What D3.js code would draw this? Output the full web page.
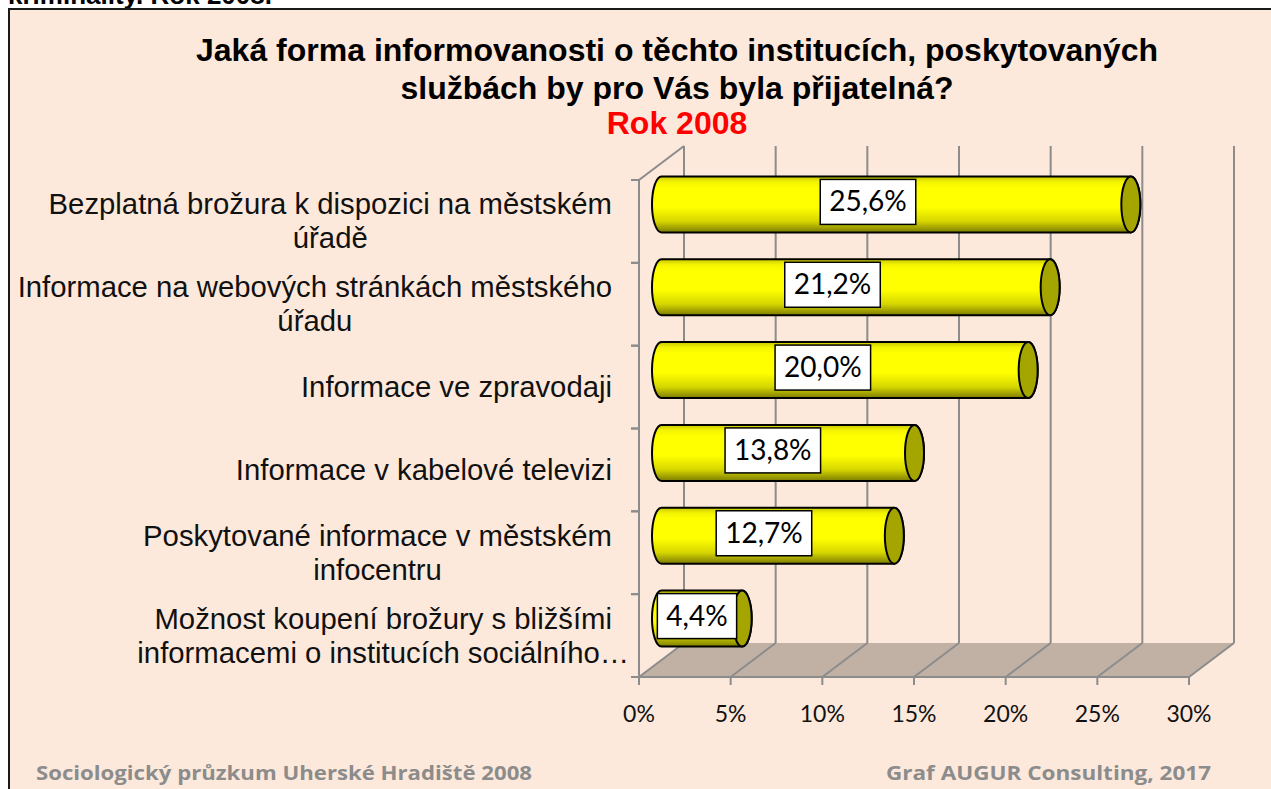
<!DOCTYPE html>
<html>
<head>
<meta charset="utf-8">
<script src="https://cdn.jsdelivr.net/npm/d3@7"></script>
<style>
  body { margin: 0; background: #ffffff; }
</style>
</head>
<body>
<div id="wrapper"></div>
<script>
// data
const categories = [
  ["Bezplatná brožura k dispozici na městském", "úřadě"],
  ["Informace na webových stránkách městského", "úřadu"],
  ["Informace ve zpravodaji"],
  ["Informace v kabelové televizi"],
  ["Poskytované informace v městském", "infocentru"],
  ["Možnost koupení brožury s bližšími", "informacemi o institucích sociálního…"],
];
const values = [25.6, 21.2, 20.0, 13.8, 12.7, 4.4];
const xTicks = [0, 5, 10, 15, 20, 25, 30];
const titleLines = [
  "Jaká forma informovanosti o těchto institucích, poskytovaných",
  "službách by pro Vás byla přijatelná?",
];
const subtitle = "Rok 2008";
const headerCut = "kriminality. Rok 2008.";
const footerLeft = "Sociologický průzkum Uherské Hradiště 2008";
const footerRight = "Graf AUGUR Consulting, 2017";

function drawChart() {
  const width = 1271;
  const height = 789;
  const depth = { dx: 45, dy: -34 };
  const plot = { left: 639, right: 1189, top: 180, bottom: 677 };

  const svg = d3
    .select("#wrapper")
    .append("svg")
    .attr("width", width)
    .attr("height", height);

  // gradient for the cylinder body
  const grad = svg
    .append("defs")
    .append("linearGradient")
    .attr("id", "cyl")
    .attr("x1", 0)
    .attr("y1", 0)
    .attr("x2", 0)
    .attr("y2", 1);
  [
    [0, "#c8c800"],
    [0.1, "#f4f400"],
    [0.2, "#ffff00"],
    [0.55, "#ffff00"],
    [0.8, "#d6d600"],
    [1, "#7c7c00"],
  ].forEach(([o, c]) => grad.append("stop").attr("offset", o).attr("stop-color", c));

  // text cut off at the top of the page
  svg
    .append("text")
    .attr("x", 8)
    .attr("y", 4)
    .attr("font-family", "Liberation Sans, Arial, sans-serif")
    .attr("font-weight", "bold")
    .attr("font-size", 26)
    .text(headerCut);

  // chart area
  svg
    .append("rect")
    .attr("x", 9)
    .attr("y", 9)
    .attr("width", width + 20)
    .attr("height", height + 20)
    .attr("fill", "#fde9db")
    .attr("stroke", "#1a1a1a")
    .attr("stroke-width", 2);

  const x = d3.scaleLinear().domain([0, 30]).range([plot.left, plot.right]);
  const y = d3
    .scaleBand()
    .domain(d3.range(categories.length))
    .range([plot.top, plot.bottom]);

  const grid = svg
    .append("g")
    .attr("stroke", "#8c8c8c")
    .attr("stroke-width", 2)
    .attr("fill", "none");

  // floor
  svg
    .insert("path", "g")
    .attr(
      "d",
      `M${x(0)},${plot.bottom} L${x(30)},${plot.bottom} L${x(30) + depth.dx},${
        plot.bottom + depth.dy
      } L${x(0) + depth.dx},${plot.bottom + depth.dy} Z`
    )
    .attr("fill", "#c1b1a5");

  // back wall gridlines + floor gridlines
  xTicks.forEach((t) => {
    grid
      .append("line")
      .attr("x1", x(t) + depth.dx)
      .attr("y1", plot.top + depth.dy)
      .attr("x2", x(t) + depth.dx)
      .attr("y2", plot.bottom + depth.dy);
    grid
      .append("line")
      .attr("x1", x(t))
      .attr("y1", plot.bottom)
      .attr("x2", x(t) + depth.dx)
      .attr("y2", plot.bottom + depth.dy);
    grid
      .append("line")
      .attr("x1", x(t))
      .attr("y1", plot.bottom)
      .attr("x2", x(t))
      .attr("y2", plot.bottom + 8);
  });

  // left wall + front floor edge
  grid
    .append("path")
    .attr(
      "d",
      `M${x(0) + depth.dx},${plot.top + depth.dy} L${x(0)},${plot.top} L${x(0)},${
        plot.bottom
      } L${x(30)},${plot.bottom}`
    );
  y.domain().forEach((i) => {
    [y(i), y(i) + y.bandwidth()].forEach((yy) =>
      grid
        .append("line")
        .attr("x1", x(0) - 8)
        .attr("x2", x(0))
        .attr("y1", yy)
        .attr("y2", yy)
    );
  });

  // x axis labels
  svg
    .append("g")
    .selectAll("text")
    .data(xTicks)
    .join("text")
    .attr("x", (d) => x(d))
    .attr("y", 722)
    .attr("text-anchor", "middle")
    .attr("font-family", "Lato, sans-serif")
    .attr("font-size", 23)
    .attr("fill", "#111")
    .text((d) => d + "%");

  // category labels
  const catFont = 29.3;
  const catG = svg
    .append("g")
    .attr("font-family", "Liberation Sans, Arial, sans-serif")
    .attr("font-size", catFont)
    .attr("fill", "#111");
  categories.forEach((lines, i) => {
    const cy = y(i) + y.bandwidth() / 2;
    const lineH = 34;
    const first = catG
      .append("text")
      .attr("x", 612)
      .attr("text-anchor", "end")
      .attr("y", cy - ((lines.length - 1) * lineH) / 2 + 10)
      .text(lines[0]);
    const w = first.node().getComputedTextLength();
    lines.slice(1).forEach((l, j) => {
      catG
        .append("text")
        .attr("x", 612 - w / 2)
        .attr("text-anchor", "middle")
        .attr("y", cy - ((lines.length - 1) * lineH) / 2 + 10 + (j + 1) * lineH)
        .text(l);
    });
  });

  // cylinders
  const rx = 9.5;
  const ry = 28;
  const bars = svg
    .append("g")
    .selectAll("g")
    .data(values)
    .join("g");
  bars.each(function (v, i) {
    const g = d3.select(this);
    const cy = y(i) + y.bandwidth() / 2 + depth.dy / 2;
    const x0 = x(0) + depth.dx / 2;
    const x1 = x(v) + depth.dx / 2;
    g.append("path")
      .attr(
        "d",
        `M${x0},${cy - ry} L${x1},${cy - ry} A${rx},${ry} 0 0 1 ${x1},${cy + ry} L${x0},${
          cy + ry
        } A${rx},${ry} 0 0 1 ${x0},${cy - ry} Z`
      )
      .attr("fill", "url(#cyl)")
      .attr("stroke", "#000")
      .attr("stroke-width", 2);
    g.append("ellipse")
      .attr("cx", x1)
      .attr("cy", cy)
      .attr("rx", rx)
      .attr("ry", ry)
      .attr("fill", "#a5a500")
      .attr("stroke", "#000")
      .attr("stroke-width", 2);

    // value label
    const lx = x0 + (x1 - x0) * 0.44;
    const lbl = g
      .append("text")
      .attr("x", lx)
      .attr("y", cy + 7)
      .attr("text-anchor", "middle")
      .attr("font-family", "Lato, sans-serif")
      .attr("font-size", 28)
      .attr("fill", "#000")
      .text(d3.format(".1f")(v).replace(".", ",") + "%");
    const tw = lbl.node().getComputedTextLength();
    g.insert("rect", "text")
      .attr("x", lx - tw / 2 - 9)
      .attr("y", cy - 25)
      .attr("width", tw + 18)
      .attr("height", 45)
      .attr("fill", "#fff")
      .attr("stroke", "#000")
      .attr("stroke-width", 1.5);
  });

  // title
  const title = svg
    .append("g")
    .attr("text-anchor", "middle")
    .attr("font-family", "Liberation Sans, Arial, sans-serif")
    .attr("font-weight", "bold")
    .attr("font-size", 32);
  title.append("text").attr("x", 677).attr("y", 61).text(titleLines[0]);
  title.append("text").attr("x", 677).attr("y", 99).text(titleLines[1]);
  title
    .append("text")
    .attr("x", 677)
    .attr("y", 134)
    .attr("fill", "#ff0000")
    .text(subtitle);

  // footer
  const footer = svg
    .append("g")
    .attr("font-family", "Open Sans, sans-serif")
    .attr("font-weight", "bold")
    .attr("font-size", 20)
    .attr("fill", "#8c8c8c")
    .attr("lengthAdjust", "spacingAndGlyphs");
  footer
    .append("text")
    .attr("x", 36)
    .attr("y", 780)
    .attr("textLength", 496)
    .attr("lengthAdjust", "spacingAndGlyphs")
    .text(footerLeft);
  footer
    .append("text")
    .attr("x", 886)
    .attr("y", 780)
    .attr("textLength", 325)
    .attr("lengthAdjust", "spacingAndGlyphs")
    .text(footerRight);
}

drawChart();
</script>
</body>
</html>
